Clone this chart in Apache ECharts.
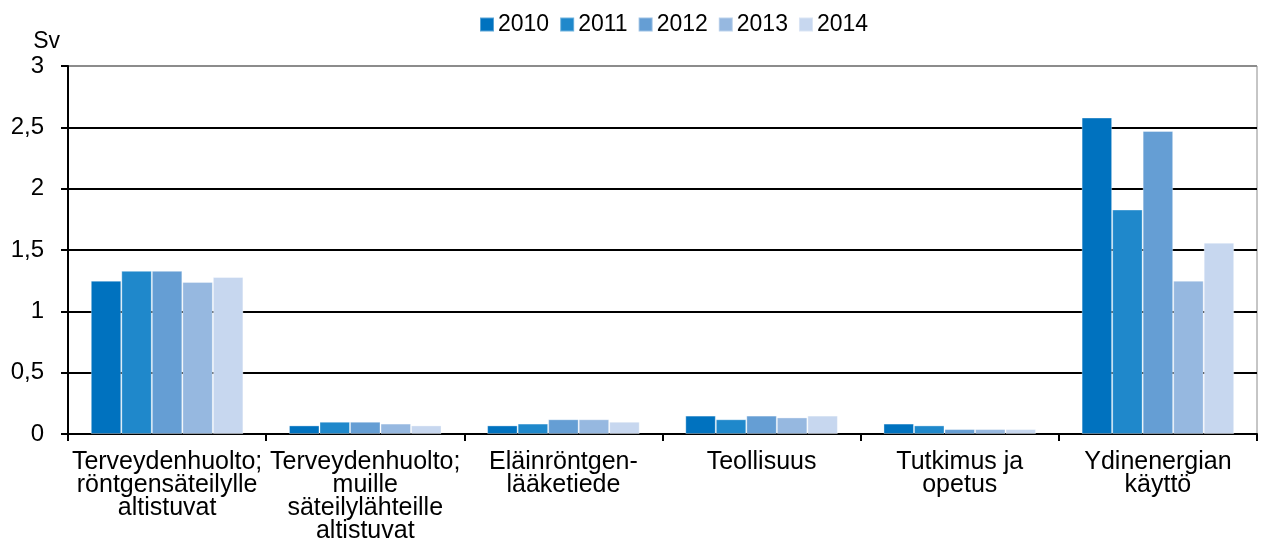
<!DOCTYPE html>
<html>
<head>
<meta charset="utf-8">
<script src="https://cdn.jsdelivr.net/npm/echarts@6/dist/echarts.min.js"></script>
<style>
  html, body { margin: 0; padding: 0; background: #fff; }
  #container { width: 1261px; height: 553px; }
</style>
</head>
<body>
<div id="container"></div>
<script>
// kategoriat ja vuosittaiset arvot (Sv)
var categories = [
	'Terveydenhuolto;\nröntgensäteilylle\naltistuvat',
	'Terveydenhuolto;\nmuille\nsäteilylähteille\naltistuvat',
	'Eläinröntgen-\nlääketiede',
	'Teollisuus',
	'Tutkimus ja\nopetus',
	'Ydinenergian\nkäyttö'
];
var years = ['2010', '2011', '2012', '2013', '2014'];
var v2010 = [1.25, 0.07, 0.07, 0.15, 0.085, 2.58];
var v2011 = [1.33, 0.10, 0.085, 0.12, 0.07, 1.83];
var v2012 = [1.33, 0.10, 0.12, 0.15, 0.04, 2.47];
var v2013 = [1.24, 0.085, 0.12, 0.135, 0.04, 1.25];
var v2014 = [1.28, 0.07, 0.10, 0.15, 0.04, 1.56];
var yTicks = [0, 0.5, 1, 1.5, 2, 2.5, 3];

var colors = ['#0072BF', '#1F88CB', '#659ED4', '#96B8E0', '#C7D7EF'];
var values = [v2010, v2011, v2012, v2013, v2014];

var myChart = echarts.init(document.getElementById('container'));

var series = [];
for (var i = 0; i < years.length; i++) {
	series.push({
		name: years[i],
		type: 'bar',
		data: values[i],
		barGap: '0%',
		barCategoryGap: '23%',
		itemStyle: {
			color: colors[i],
			borderColor: 'rgba(255,255,255,0.35)',
			borderWidth: 1
		}
	});
}

// viimeinen viiva (3) harmaa kuten kehys
var splitColors = yTicks.map(function(t, idx) {
	return idx === yTicks.length - 1 ? '#8c8c8c' : '#000';
});

var option = {
	animation: false,
	color: colors,
	textStyle: { fontFamily: 'Liberation Sans, Arial, sans-serif' },
	legend: {
		data: years,
		top: 8,
		left: 474,
		itemWidth: 14,
		itemHeight: 14,
		itemGap: 10,
		icon: 'rect',
		textStyle: { fontSize: 23, color: '#000', padding: [0, 0, 0, -1] }
	},
	grid: {
		left: 68,
		right: 4,
		top: 66,
		bottom: 119,
		show: true,
		borderColor: '#8c8c8c',
		borderWidth: 1
	},
	xAxis: {
		type: 'category',
		data: categories,
		axisLine: { lineStyle: { color: '#000', width: 2 } },
		axisTick: { show: true, length: 7, lineStyle: { color: '#000', width: 2 } },
		axisLabel: {
			fontSize: 25,
			color: '#000',
			lineHeight: 23,
			margin: 17,
			interval: 0
		}
	},
	yAxis: {
		type: 'value',
		name: 'Sv',
		nameLocation: 'end',
		nameGap: 13,
		nameTextStyle: { fontSize: 23, color: '#000', align: 'right', padding: [0, 8, 0, 0] },
		min: 0,
		max: 3,
		interval: 0.5,
		axisLine: { show: true, lineStyle: { color: '#000', width: 2 } },
		axisTick: { show: true, length: 7, lineStyle: { color: '#000', width: 2 } },
		axisLabel: {
			fontSize: 24,
			color: '#000',
			margin: 24,
			formatter: function(v) { return String(v).replace('.', ','); }
		},
		splitLine: { show: true, lineStyle: { color: splitColors, width: 2 } }
	},
	series: series
};
myChart.setOption(option);
</script>
</body>
</html>
